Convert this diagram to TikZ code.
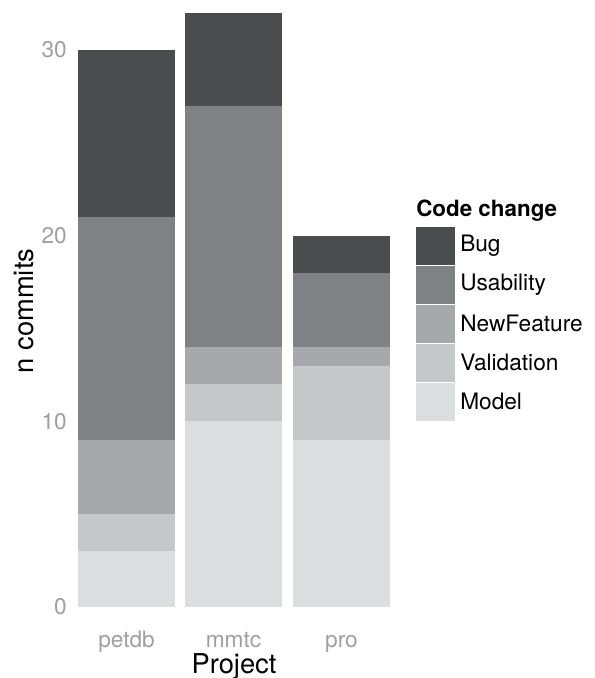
\documentclass[tikz,border=0pt]{standalone}
\usepackage{fontspec}
\setmainfont{TeX Gyre Heros}
\usetikzlibrary{positioning}

\definecolor{bugc}{RGB}{75,76,78}
\definecolor{usec}{RGB}{128,129,133}
\definecolor{newc}{RGB}{167,168,171}
\definecolor{valc}{RGB}{198,199,201}
\definecolor{modc}{RGB}{220,221,223}
\definecolor{tickc}{RGB}{160,160,160}

\tikzset{
  bug/.style={fill=bugc},
  usab/.style={fill=usec},
  newf/.style={fill=newc},
  valid/.style={fill=valc},
  model/.style={fill=modc},
  ticklab/.style={text=tickc, font=\fontsize{17}{20}\selectfont, inner sep=0pt},
  axtitle/.style={font=\fontsize{20.5}{24}\selectfont, inner sep=0pt},
  legtext/.style={font=\fontsize{17}{20}\selectfont, anchor=west, inner sep=0pt},
  legkey/.style={draw=white, line width=0.6pt}
}

\begin{document}
\begin{tikzpicture}[x=0.75pt, y=0.75pt]
	\useasboundingbox (0,0) rectangle (594,678);
	% stacked bars, counts on the y axis
	\begin{scope}[shift={(0,71)}, yscale=18.57]
		% petdb
		\fill[model] (78,0) rectangle (175,3);
		\fill[valid] (78,3) rectangle (175,5);
		\fill[newf] (78,5) rectangle (175,9);
		\fill[usab] (78,9) rectangle (175,21);
		\fill[bug] (78,21) rectangle (175,30);
		% mmtc
		\fill[model] (185,0) rectangle (282,10);
		\fill[valid] (185,10) rectangle (282,12);
		\fill[newf] (185,12) rectangle (282,14);
		\fill[usab] (185,14) rectangle (282,27);
		\fill[bug] (185,27) rectangle (282,32);
		% pro
		\fill[model] (293,0) rectangle (390,9);
		\fill[valid] (293,9) rectangle (390,13);
		\fill[newf] (293,13) rectangle (390,14);
		\fill[usab] (293,14) rectangle (390,18);
		\fill[bug] (293,18) rectangle (390,20);
		% tick labels
		\node[ticklab, anchor=east] (y0) at (67,0) {0};
		\node[ticklab, anchor=east] (y10) at (67,10) {10};
		\node[ticklab, anchor=east] (y20) at (67,20) {20};
		\node[ticklab, anchor=east] (y30) at (67,30) {30};
	\end{scope}
	\node[ticklab, anchor=base] (xpetdb) at (126.5,30) {petdb};
	\node[ticklab, anchor=base] (xmmtc) at (233.5,30) {mmtc};
	\node[ticklab, anchor=base] (xpro) at (341.5,30) {pro};
	\node[axtitle, anchor=base] (xtitle) at (234,4) {Project};
	\node[axtitle, anchor=base, rotate=90] (ytitle) at (33,367) {n commits};
	% legend
	\node[font=\fontsize{16.8}{20}\selectfont\bfseries, anchor=base west, inner sep=0pt] (legtitle) at (416,461) {Code change};
	\draw[legkey, bug] (415,452) rectangle (455,413);
	\draw[legkey, usab] (415,413) rectangle (455,374);
	\draw[legkey, newf] (415,374) rectangle (455,335);
	\draw[legkey, valid] (415,335) rectangle (455,296);
	\draw[legkey, model] (415,296) rectangle (455,257);
	\node[legtext] (lbug) at (460,432.5) {Bug};
	\node[legtext] (lusab) at (460,393.5) {Usability};
	\node[legtext] (lnewf) at (460,354.5) {NewFeature};
	\node[legtext] (lvalid) at (460,315.5) {Validation};
	\node[legtext] (lmodel) at (460,276.5) {Model};
\end{tikzpicture}
\end{document}
